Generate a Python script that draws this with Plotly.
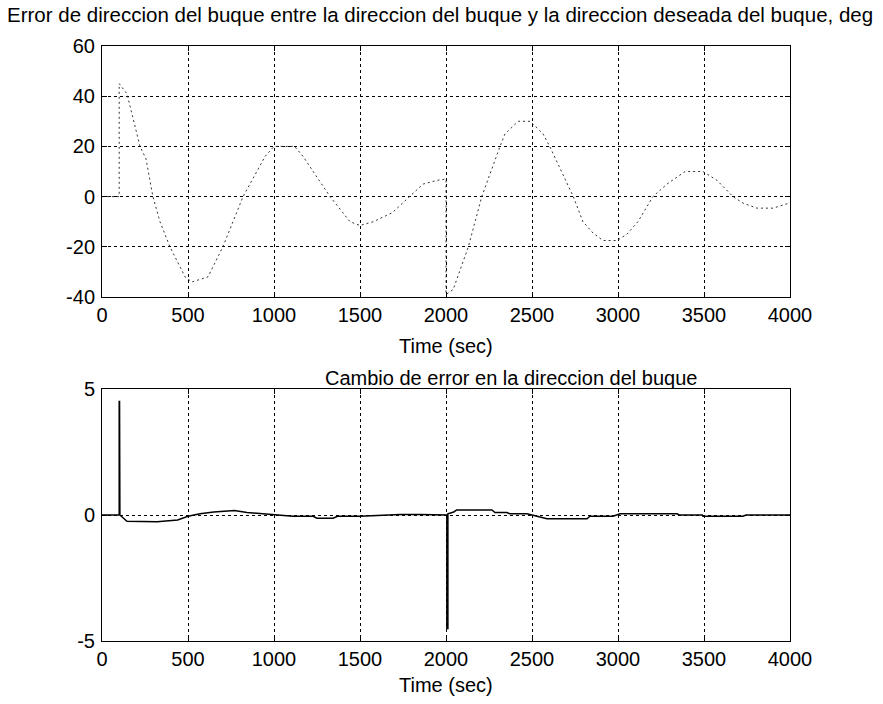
import plotly.graph_objects as go

# Heading error between ship heading and desired heading (deg)
t_heading = [0, 100, 100, 145, 221, 256, 296, 337, 395, 483, 523, 616, 703, 820, 948,
             1000, 1120, 1169, 1326, 1442, 1500, 1577, 1686, 1790, 1867, 1950, 2000,
             2000, 2042, 2130, 2208, 2314, 2343, 2420, 2490, 2564, 2603, 2740, 2796,
             2855, 2913, 2994, 3052, 3116, 3203, 3285, 3390, 3494, 3575, 3669, 3727,
             3808, 3901, 4000]
heading_error = [0, 0, 45, 41, 20, 15, 0, -10, -20, -32, -34, -32, -20, 0, 16,
                 20, 20, 16, 0, -10, -11.5, -10, -6.5, 0, 5, 6.5, 7,
                 -39, -37, -20, 0, 20, 25, 30, 30, 25, 20, 0, -10,
                 -14.5, -17.5, -17.5, -15, -10, 0, 5, 10, 10, 6.5, 0, -2.6,
                 -4.6, -4.6, -2.5]

# Change of heading error
t_change = [0, 100, 100, 102, 104, 145, 320, 440, 500, 570, 650, 770, 843, 919, 1000,
            1110, 1227, 1250, 1343, 1370, 1500, 1733, 1849, 2005, 2005, 2011, 2011,
            2045, 2062, 2267, 2285, 2354, 2370, 2470, 2500, 2587, 2820, 2837, 2971,
            3000, 3012, 3343, 3356, 3490, 3494, 3727, 3744, 4000]
error_change = [0, 0, 4.5, 4.5, 0, -0.25, -0.27, -0.2, -0.05, 0.05, 0.12, 0.18, 0.1, 0.05, 0,
                -0.05, -0.05, -0.13, -0.13, -0.05, -0.05, 0.02, 0.02, 0, -4.5, -4.5, 0.05,
                0.12, 0.2, 0.2, 0.1, 0.1, 0.05, 0.05, 0, -0.15, -0.15, -0.05, -0.05,
                0, 0.05, 0.05, 0, 0, -0.05, -0.05, 0, 0]

x_ticks = [0, 500, 1000, 1500, 2000, 2500, 3000, 3500, 4000]
y_ticks_top = [-40, -20, 0, 20, 40, 60]
y_ticks_bottom = [-5, 0, 5]

W, H = 883, 704
FAMILY = "Liberation Sans, Arial, sans-serif"
FONT = dict(family=FAMILY, size=20, color="black")
TITLE_FONT = dict(family=FAMILY, size=20.5, color="black")
TICKFONT = dict(family=FAMILY, size=20, color="black")

fig = go.Figure()
fig.add_trace(go.Scatter(x=t_heading, y=heading_error, mode="lines",
                         line=dict(color="#333", width=1, dash="2px,3px"),
                         xaxis="x", yaxis="y", showlegend=False))
fig.add_trace(go.Scatter(x=t_change, y=error_change, mode="lines",
                         line=dict(color="black", width=1.5),
                         xaxis="x2", yaxis="y2", showlegend=False))

def px_x(p):
    return p / W

def px_y(p):
    return 1 - p / H

def labels(vals):
    return [str(v) for v in vals]

common_x = dict(range=[0, 4000], tickvals=x_ticks, ticktext=labels(x_ticks),
                showgrid=True, gridcolor="black", griddash="dot", gridwidth=1,
                showline=True, linecolor="black", linewidth=1, mirror="ticks",
                ticks="inside", ticklen=5, tickcolor="black", zeroline=False,
                tickfont=TICKFONT, automargin=False, fixedrange=True)
common_y = dict(showgrid=True, gridcolor="black", griddash="dot", gridwidth=1,
                showline=True, linecolor="black", linewidth=1, mirror="ticks",
                ticks="inside", ticklen=5, tickcolor="black", zeroline=False,
                tickfont=TICKFONT, ticklabelstandoff=2, automargin=False,
                fixedrange=True)

fig.update_layout(
    width=W, height=H, autosize=False,
    margin=dict(l=0, r=0, t=0, b=0, pad=0),
    paper_bgcolor="white", plot_bgcolor="white",
    font=FONT,
    xaxis=dict(domain=[px_x(102), px_x(790)], anchor="y", **common_x),
    yaxis=dict(domain=[px_y(297), px_y(46)], anchor="x", range=[-40, 60],
               tickvals=y_ticks_top, ticktext=labels(y_ticks_top), **common_y),
    xaxis2=dict(domain=[px_x(102), px_x(790)], anchor="y2", **common_x),
    yaxis2=dict(domain=[px_y(641), px_y(389)], anchor="x2", range=[-5, 5],
                tickvals=y_ticks_bottom, ticktext=labels(y_ticks_bottom), **common_y),
    annotations=[
        dict(text="Error de direccion del buque entre la direccion del buque y la direccion deseada del buque, deg",
             x=px_x(440), y=px_y(14), xref="paper", yref="paper",
             xanchor="center", yanchor="middle", showarrow=False, font=TITLE_FONT),
        dict(text="Time (sec)", x=px_x(446), y=px_y(346), xref="paper", yref="paper",
             xanchor="center", yanchor="middle", showarrow=False, font=FONT),
        dict(text="Cambio de error en la direccion del buque", x=px_x(511), y=px_y(378),
             xref="paper", yref="paper", xanchor="center", yanchor="middle",
             showarrow=False, font=FONT),
        dict(text="Time (sec)", x=px_x(446), y=px_y(685), xref="paper", yref="paper",
             xanchor="center", yanchor="middle", showarrow=False, font=FONT),
    ],
)

fig.write_html("out.html")
